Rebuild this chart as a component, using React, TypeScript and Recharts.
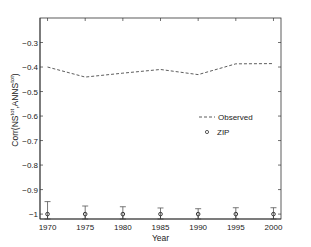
import { ComposedChart, ErrorBar, Line, Scatter, XAxis, YAxis } from 'recharts'

const years = [1970, 1975, 1980, 1985, 1990, 1995, 2000]
const observed = [-0.4, -0.441, -0.425, -0.41, -0.431, -0.387, -0.386]
const zip = [-1, -1, -1, -1, -1, -1, -1]
// error bars: [below, above]; the part below is cut by the axis at -1.02
const zipErrLow = [0.02, 0.02, 0.02, 0.02, 0.02, 0.02, 0.02]
const zipErrHigh = [0.051, 0.033, 0.03, 0.025, 0.022, 0.026, 0.026]
const yTicks = [-1, -0.9, -0.8, -0.7, -0.6, -0.5, -0.4, -0.3]

const data = years.map((year, i) => ({
  year,
  observed: observed[i],
  zip: zip[i],
  zipErr: [zipErrLow[i], zipErrHigh[i]],
}))

const W = 311
const H = 247
const LEFT = 40
const RIGHT = 281
const TOP = 18
const BOTTOM = 219
const INK = '#333'
const FONT = 'Liberation Sans, Arial, sans-serif'

const fmt = (v: number) => (v < 0 ? '\u2212' : '') + String(Math.abs(Math.round(v * 10) / 10))

const YTick = (props: any) => {
  const { y, payload } = props
  return (
    <g>
      <text x={LEFT - 2} y={y} dy={3} textAnchor="end" fontSize={8} fontFamily={FONT} fill="#222">
        {fmt(payload.value)}
      </text>
      <line x1={LEFT} x2={LEFT + 3} y1={y} y2={y} stroke={INK} strokeWidth={0.7} />
      <line x1={RIGHT - 3} x2={RIGHT} y1={y} y2={y} stroke={INK} strokeWidth={0.7} />
    </g>
  )
}

const XTick = (props: any) => {
  const { x, payload } = props
  return (
    <g>
      <text x={x} y={BOTTOM + 11} textAnchor="middle" fontSize={8} fontFamily={FONT} fill="#222">
        {payload.value}
      </text>
      <line x1={x} x2={x} y1={BOTTOM - 3} y2={BOTTOM} stroke={INK} strokeWidth={0.7} />
      <line x1={x} x2={x} y1={TOP} y2={TOP + 3} stroke={INK} strokeWidth={0.7} />
    </g>
  )
}

const YLabel = () => (
  <text
    x={18}
    y={110}
    transform="rotate(-90, 18, 110)"
    textAnchor="middle"
    fontSize={8.5}
    fontFamily={FONT}
    fill="#222"
  >
    Corr(NS
    <tspan dy={-4} fontSize={6}>tot</tspan>
    <tspan dy={4}>,ANNS</tspan>
    <tspan dy={-4} fontSize={6}>tot</tspan>
    <tspan dy={4}>)</tspan>
  </text>
)

const Dot = (props: any) => (
  <circle cx={props.cx} cy={props.cy} r={1.8} fill="none" stroke={INK} strokeWidth={1} />
)

export default function App() {
  return (
    <div style={{ position: 'absolute', left: 0, top: 0, width: W, height: H, background: '#fff' }}>
      <ComposedChart width={W} height={H} data={data} margin={{ top: TOP, right: W - RIGHT, bottom: 0, left: 0 }}>
        <XAxis
          dataKey="year"
          type="number"
          domain={[1969, 2001]}
          ticks={years}
          allowDataOverflow
          height={H - BOTTOM}
          tickLine={false}
          tick={XTick}
          axisLine={{ stroke: INK, strokeWidth: 0.8 }}
          label={{ value: 'Year', position: 'insideBottom', offset: 6, fontSize: 8.5, fontFamily: FONT, fill: '#222' }}
        />
        <YAxis
          type="number"
          domain={[-1.02, -0.2]}
          ticks={yTicks}
          allowDataOverflow
          width={LEFT}
          tickLine={false}
          tick={YTick}
          axisLine={{ stroke: INK, strokeWidth: 0.8 }}
          label={<YLabel />}
        />
        <Line
          type="linear"
          dataKey="observed"
          stroke={INK}
          strokeWidth={0.8}
          strokeDasharray="3 2"
          dot={false}
          isAnimationActive={false}
        />
        <Scatter dataKey="zip" shape={Dot} isAnimationActive={false}>
          <ErrorBar dataKey="zipErr" direction="y" width={3} stroke="#555" strokeWidth={0.8} />
        </Scatter>
      </ComposedChart>
      <svg width={W} height={H} style={{ position: 'absolute', left: 0, top: 0, pointerEvents: 'none' }}>
        <rect x={LEFT} y={TOP} width={RIGHT - LEFT} height={BOTTOM - TOP} fill="none" stroke={INK} strokeWidth={0.8} />
        <line x1={199} x2={215} y1={117} y2={117} stroke={INK} strokeWidth={0.8} strokeDasharray="3 2" />
        <text x={218} y={120} fontSize={8} fontFamily={FONT} fill="#222">Observed</text>
        <circle cx={207} cy={132} r={1.6} fill="none" stroke={INK} strokeWidth={0.8} />
        <text x={217} y={135} fontSize={8} fontFamily={FONT} fill="#222">ZIP</text>
      </svg>
    </div>
  )
}
